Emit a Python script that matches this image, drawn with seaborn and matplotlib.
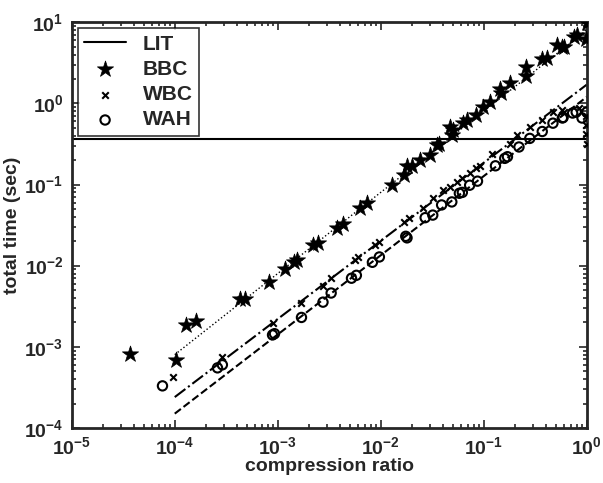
import numpy as np
import pandas as pd
import seaborn as sns
import matplotlib
matplotlib.use('Agg')
import matplotlib.pyplot as plt
from matplotlib.ticker import LogLocator, FuncFormatter, NullFormatter

# values
bbc_x = [3.7e-5, 1.02e-4, 1.29e-4, 1.6e-4, 4.3e-4, 4.8e-4, 8.3e-4, 1.17e-3, 1.43e-3, 1.55e-3,
         2.2e-3, 2.45e-3, 3.8e-3, 4.3e-3, 6.3e-3, 7.4e-3, 0.0129, 0.0167, 0.018, 0.020,
         0.024, 0.030, 0.035, 0.037, 0.049, 0.047, 0.050, 0.063, 0.069, 0.085,
         0.098, 0.115, 0.145, 0.148, 0.18, 0.26, 0.26, 0.37, 0.41, 0.51,
         0.57, 0.60, 0.76, 0.81, 0.99, 1.0]
bbc_y = [8.2e-4, 6.9e-4, 1.85e-3, 2.1e-3, 3.9e-3, 3.9e-3, 6.3e-3, 9.1e-3, 1.1e-2, 1.17e-2,
         0.018, 0.019, 0.029, 0.033, 0.052, 0.059, 0.098, 0.13, 0.17, 0.17,
         0.20, 0.23, 0.31, 0.32, 0.41, 0.51, 0.47, 0.57, 0.62, 0.71,
         0.90, 1.03, 1.5, 1.35, 1.8, 2.8, 2.2, 3.5, 3.6, 5.2,
         4.9, 4.9, 6.6, 6.9, 6.3, 9.7]

wbc_x = [9.6e-5, 2.9e-4, 8.9e-4, 1.7e-3, 2.75e-3, 3.3e-3, 5.6e-3, 6.0e-3, 8.7e-3, 9.7e-3,
         0.017, 0.019, 0.026, 0.032, 0.040, 0.047, 0.055, 0.062, 0.073, 0.085,
         0.091, 0.12, 0.18, 0.21, 0.28, 0.37, 0.47, 0.57, 0.60, 0.85,
         0.98, 0.98, 0.99, 1.0]
wbc_y = [4.2e-4, 7.4e-4, 1.95e-3, 3.5e-3, 5.6e-3, 7.0e-3, 0.0117, 0.0128, 0.0178, 0.0195,
         0.035, 0.039, 0.051, 0.068, 0.085, 0.093, 0.107, 0.12, 0.14, 0.16,
         0.17, 0.24, 0.32, 0.41, 0.51, 0.62, 0.78, 0.83, 0.78, 0.87,
         0.70, 0.54, 0.42, 0.32]

wah_x = [7.6e-5, 2.6e-4, 2.9e-4, 8.9e-4, 9.3e-4, 1.7e-3, 2.75e-3, 3.3e-3, 5.2e-3, 5.8e-3,
         8.3e-3, 9.7e-3, 0.018, 0.0175, 0.027, 0.032, 0.039, 0.049, 0.058, 0.062,
         0.073, 0.087, 0.13, 0.16, 0.17, 0.22, 0.28, 0.37, 0.47, 0.58,
         0.59, 0.73, 0.79, 0.90, 1.0]
wah_y = [3.3e-4, 5.5e-4, 6.0e-4, 1.4e-3, 1.45e-3, 2.3e-3, 3.55e-3, 4.6e-3, 7.0e-3, 7.6e-3,
         0.011, 0.0128, 0.022, 0.023, 0.039, 0.042, 0.056, 0.061, 0.078, 0.08,
         0.098, 0.11, 0.17, 0.21, 0.22, 0.29, 0.37, 0.45, 0.57, 0.66,
         0.67, 0.76, 0.78, 0.66, 0.78]

lit_x = [1e-5, 1.0]
lit_y = [0.36, 0.36]

fit_x = [1e-4, 1.0]
bbc_fit = [8e-4, 8.0]
wbc_fit = [2.4e-4, 1.7]
wah_fit = [1.5e-4, 1.2]

sns.set_style('ticks')
plt.rcParams['font.family'] = ['Liberation Sans', 'DejaVu Sans']
plt.rcParams['font.weight'] = 'bold'
plt.rcParams['mathtext.fontset'] = 'custom'
plt.rcParams['mathtext.bf'] = 'Liberation Sans:bold'
plt.rcParams['mathtext.rm'] = 'Liberation Sans:bold'

fig = plt.figure(figsize=(6.03, 4.83), dpi=100)
ax = fig.add_axes([0.119, 0.114, 0.854, 0.840])

sns.lineplot(x=lit_x, y=lit_y, ax=ax, color='black', linewidth=1.5, label='LIT')
sns.scatterplot(x=bbc_x, y=bbc_y, ax=ax, marker='*', s=150, color='black',
                edgecolor='black', linewidth=0.5, label='BBC', zorder=3)
sns.scatterplot(x=wbc_x, y=wbc_y, ax=ax, marker='x', s=22, color='black',
                linewidth=1.5, label='WBC', zorder=3)
sns.scatterplot(x=wah_x, y=wah_y, ax=ax, marker='o', s=45, facecolors='none',
                edgecolors='black', linewidth=1.5, label='WAH', zorder=3)

sns.lineplot(x=fit_x, y=bbc_fit, ax=ax, color='black', linewidth=1.0, linestyle=':')
sns.lineplot(x=fit_x, y=wbc_fit, ax=ax, color='black', linewidth=1.5, linestyle='-.')
sns.lineplot(x=fit_x, y=wah_fit, ax=ax, color='black', linewidth=1.5, linestyle='--')

ax.set_xscale('log')
ax.set_yscale('log')
ax.set_xlim(1e-5, 1)
ax.set_ylim(1e-4, 1e1)

fmt = FuncFormatter(lambda v, p: r'$\mathbf{10^{%d}}$' % int(round(np.log10(v))))
ax.xaxis.set_major_locator(LogLocator(base=10, numticks=10))
ax.yaxis.set_major_locator(LogLocator(base=10, numticks=10))
ax.xaxis.set_minor_locator(LogLocator(base=10, subs=np.arange(2, 10), numticks=20))
ax.yaxis.set_minor_locator(LogLocator(base=10, subs=np.arange(2, 10), numticks=20))
ax.xaxis.set_major_formatter(fmt)
ax.yaxis.set_major_formatter(fmt)
ax.xaxis.set_minor_formatter(NullFormatter())
ax.yaxis.set_minor_formatter(NullFormatter())

ax.tick_params(which='both', direction='in', top=True, right=True, width=1.2)
ax.tick_params(which='major', length=6, labelsize=14, pad=6)
ax.tick_params(which='minor', length=3)
for sp in ax.spines.values():
    sp.set_visible(True)
    sp.set_linewidth(2)

ax.set_xlabel('compression ratio', fontsize=14, fontweight='bold', labelpad=0)
ax.set_ylabel('total time (sec)', fontsize=14, fontweight='bold', labelpad=2)

leg = ax.legend(loc='upper left', fontsize=15, frameon=True, fancybox=False,
                borderaxespad=0.3, handlelength=2.0, handletextpad=0.8,
                labelspacing=0.3, borderpad=0.3)
leg.get_frame().set_edgecolor('black')
leg.get_frame().set_linewidth(1.2)
for t in leg.get_texts():
    t.set_fontweight('bold')

fig.savefig('out.png', dpi=100)
